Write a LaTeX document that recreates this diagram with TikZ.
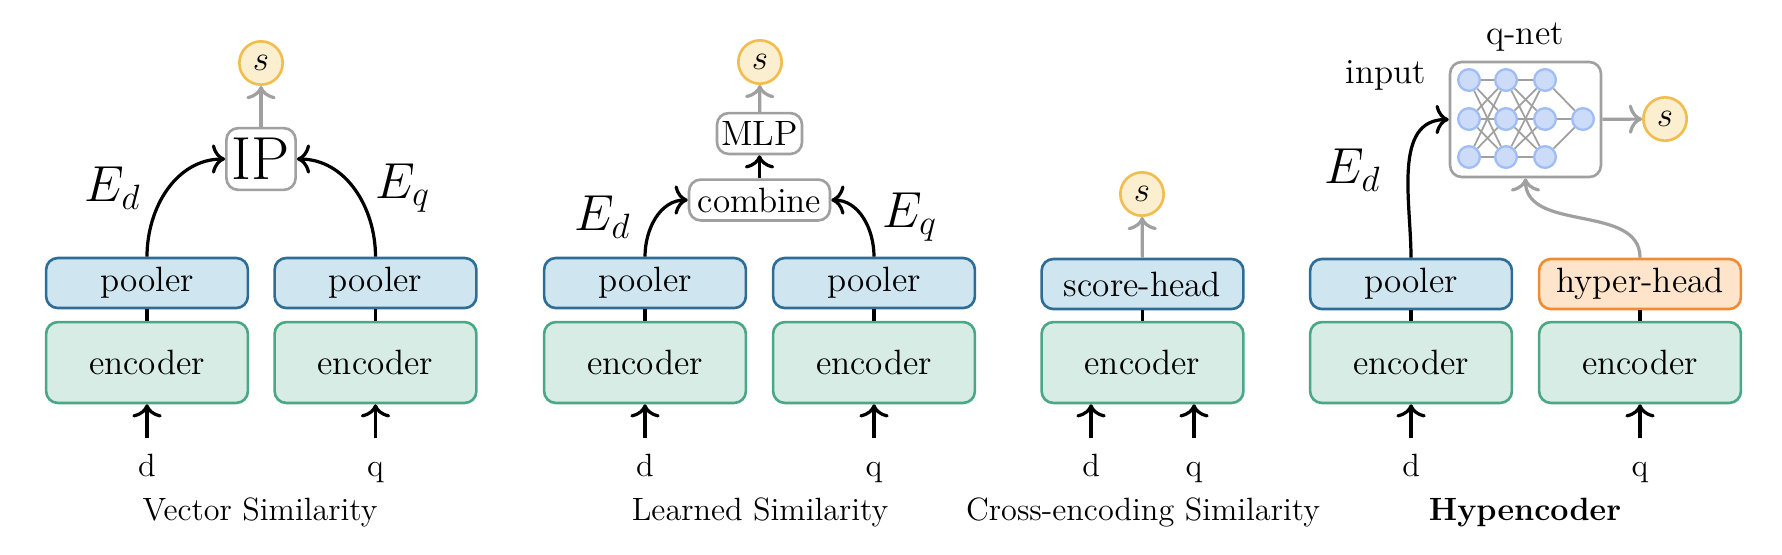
\documentclass[tikz,border=0pt]{standalone}
\usetikzlibrary{arrows.meta}

\definecolor{poolfill}{HTML}{CFE6F1}
\definecolor{pooldraw}{HTML}{2E6E96}
\definecolor{encfill}{HTML}{D6ECE4}
\definecolor{encdraw}{HTML}{4CA884}
\definecolor{hypfill}{HTML}{FDE4CB}
\definecolor{hypdraw}{HTML}{F08C32}
\definecolor{sfill}{HTML}{FCEFCF}
\definecolor{sdraw}{HTML}{F2BD50}
\definecolor{nnfill}{HTML}{CCDCF8}
\definecolor{nndraw}{HTML}{A0BEF5}
\definecolor{boxgray}{HTML}{A0A0A0}

\begin{document}
\begin{tikzpicture}[x=0.012cm, y=-0.012cm,
        box/.style={draw, rounded corners=4pt, line width=0.9pt, font=\large, inner sep=0pt},
        pool/.style={box, draw=pooldraw, fill=poolfill, minimum width=2.42cm, minimum height=0.6cm},
        enc/.style={box, draw=encdraw, fill=encfill, minimum width=2.42cm, minimum height=0.97cm},
        hyper/.style={pool, draw=hypdraw, fill=hypfill},
        gbox/.style={box, draw=boxgray, fill=white},
        score/.style={circle, draw=sdraw, fill=sfill, line width=0.9pt, minimum size=0.52cm, inner sep=0pt, font=\large},
        neuron/.style={circle, draw=nndraw, fill=nnfill, line width=0.8pt, minimum size=0.26cm, inner sep=0pt},
        nnedge/.style={draw=boxgray, line width=0.6pt},
        lbl/.style={font=\fontsize{11}{13}\selectfont, anchor=base},
        inp/.style={lbl, text height=0.7em},
        emb/.style={font=\LARGE},
        arr/.style={-{Computer Modern Rightarrow[length=4.5pt,width=10pt]}, line width=1.1pt},
        garr/.style={arr, draw=boxgray},
        link/.style={line width=1.1pt}]
    \useasboundingbox (0,0) rectangle (1782,554);

    % Vector Similarity
    \node[pool] (vpool1) at (147,283) {pooler};
    \node[pool] (vpool2) at (375.5,283) {pooler};
    \node[enc] (venc1) at (147,362.5) {encoder};
    \node[enc] (venc2) at (375.5,362.5) {encoder};
    \node[gbox, minimum width=0.83cm, minimum height=0.74cm, font=\huge] (ip) at (261,159) {IP};
    \node[score] (vs) at (261,63) {$s$};
    \node[emb] (ved) at (113,188) {$E_d$};
    \node[emb] (veq) at (403,188) {$E_q$};
    \node[inp] (vd) at (147,476) {d};
    \node[inp] (vq) at (375.5,476) {q};
    \node[lbl] (vcap) at (260,520) {Vector Similarity};

    \draw[arr, shorten <=2.5pt] (vd) -- (venc1);
    \draw[arr, shorten <=2.5pt] (vq) -- (venc2);
    \draw[link] (venc1) -- (vpool1);
    \draw[link] (venc2) -- (vpool2);
    \draw[arr] (vpool1.north) to[out=90, in=180] (ip.west);
    \draw[arr] (vpool2.north) to[out=90, in=0] (ip.east);
    \draw[garr] (ip) -- (vs);

    % Learned Similarity
    \node[pool] (lpool1) at (645,283) {pooler};
    \node[pool] (lpool2) at (874,283) {pooler};
    \node[enc] (lenc1) at (645,362.5) {encoder};
    \node[enc] (lenc2) at (874,362.5) {encoder};
    \node[gbox, minimum width=1.69cm, minimum height=0.49cm] (comb) at (759.5,200) {combine};
    \node[gbox, minimum width=1.02cm, minimum height=0.49cm] (mlp) at (759.5,133.5) {MLP};
    \node[score] (ls) at (760,62) {$s$};
    \node[emb] (led) at (603,217) {$E_d$};
    \node[emb] (leq) at (910,217) {$E_q$};
    \node[inp] (ld) at (645,476) {d};
    \node[inp] (lq) at (874,476) {q};
    \node[lbl] (lcap) at (760,520) {Learned Similarity};

    \draw[arr, shorten <=2.5pt] (ld) -- (lenc1);
    \draw[arr, shorten <=2.5pt] (lq) -- (lenc2);
    \draw[link] (lenc1) -- (lpool1);
    \draw[link] (lenc2) -- (lpool2);
    \draw[arr] (lpool1.north) to[out=90, in=180] (comb.west);
    \draw[arr] (lpool2.north) to[out=90, in=0] (comb.east);
    \draw[arr] (comb) -- (mlp);
    \draw[garr] (mlp) -- (ls);

    % Cross-encoding Similarity
    \node[pool] (chead) at (1142.5,284) {score-head};
    \node[enc] (cenc) at (1142.5,362.5) {encoder};
    \node[score] (cs) at (1142,194) {$s$};
    \node[inp] (cd) at (1091,476) {d};
    \node[inp] (cq) at (1194,476) {q};
    \node[lbl] (ccap) at (1143,520) {Cross-encoding Similarity};

    \draw[arr, shorten <=2.5pt] (cd) -- (cd |- cenc.south);
    \draw[arr, shorten <=2.5pt] (cq) -- (cq |- cenc.south);
    \draw[link] (cenc) -- (chead);
    \draw[garr] (chead) -- (cs);

    % Hypencoder
    \node[pool] (hpool) at (1411,284) {pooler};
    \node[hyper] (hhead) at (1640,284) {hyper-head};
    \node[enc] (henc1) at (1411,362.5) {encoder};
    \node[enc] (henc2) at (1640,362.5) {encoder};
    \node[gbox, minimum width=1.81cm, minimum height=1.38cm] (qnet) at (1525.5,119.5) {};
    \node[font=\large, anchor=base] (qlbl) at (1525,44) {q-net};
    \node[font=\large, anchor=base] (inlbl) at (1386,83) {input};
    \node[emb] (hed) at (1353,170) {$E_d$};
    \node[score] (hs) at (1665,119) {$s$};
    \node[inp] (hd) at (1411,476) {d};
    \node[inp] (hq) at (1640,476) {q};
    \node[lbl, font=\fontsize{11}{13}\selectfont\bfseries] (hcap) at (1525,520) {Hypencoder};

    \foreach \c/\x in {1/1469,2/1506,3/1545}
        \foreach \r/\y in {1/80,2/119,3/157}
            \node[neuron] (n\c\r) at (\x,\y) {};
    \node[neuron] (n4) at (1583,119) {};
    \foreach \r in {1,2,3} {
        \foreach \s in {1,2,3} {
            \draw[nnedge] (n1\r) -- (n2\s);
            \draw[nnedge] (n2\r) -- (n3\s);
        }
        \draw[nnedge] (n3\r) -- (n4);
    }

    \draw[arr, shorten <=2.5pt] (hd) -- (henc1);
    \draw[arr, shorten <=2.5pt] (hq) -- (henc2);
    \draw[link] (henc1) -- (hpool);
    \draw[link] (henc2) -- (hhead);
    \draw[arr] (hpool.north) to[out=90, in=180] (qnet.west);
    \draw[garr] (hhead.north) to[out=90, in=-90] (qnet.south);
    \draw[garr] (qnet) -- (hs);
\end{tikzpicture}
\end{document}
